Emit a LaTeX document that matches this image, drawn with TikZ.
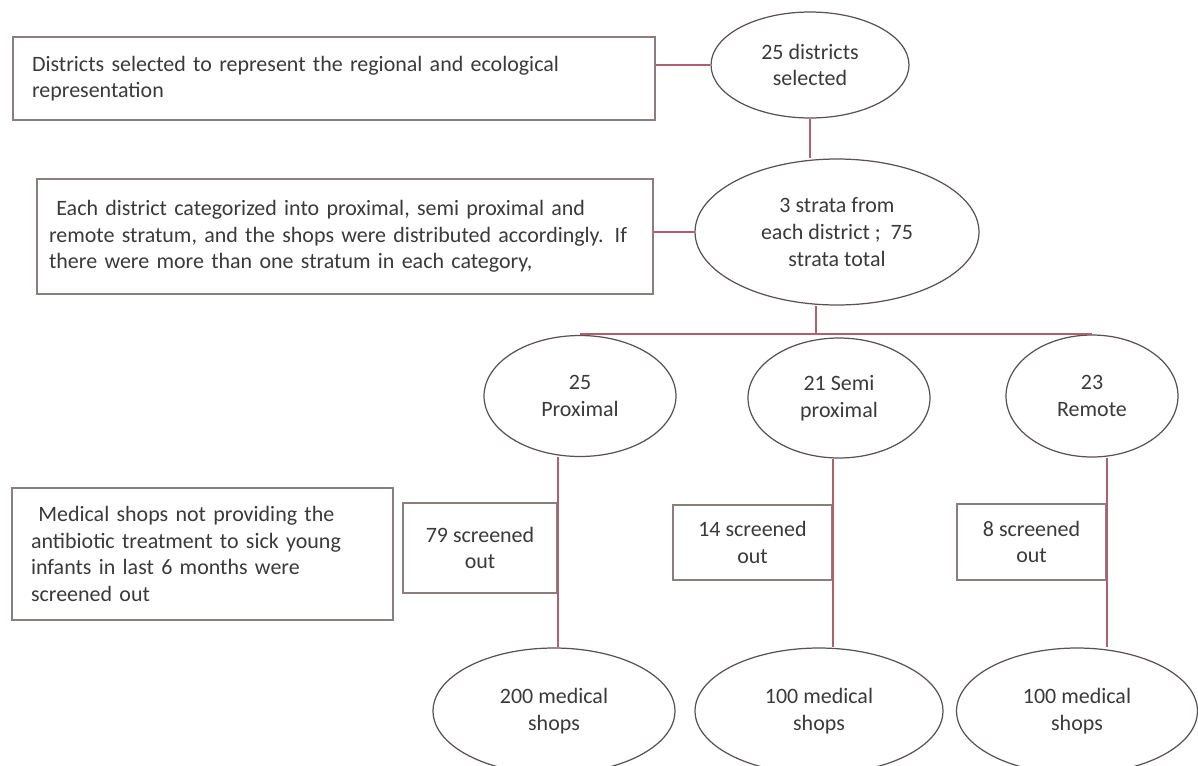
\documentclass[tikz,border=0pt]{standalone}
\usepackage{fontspec}
\setmainfont{Carlito}
\usetikzlibrary{shapes,positioning}
\definecolor{boxline}{HTML}{8A7E7E}
\definecolor{linkline}{HTML}{B0606C}
\definecolor{ovalline}{HTML}{5A5252}
\definecolor{textgrey}{HTML}{3A3A3A}

\begin{document}
\begin{tikzpicture}[x=0.02cm,y=-0.02cm]
\tikzstyle{every node}=[font=\fontsize{12.5}{15.2}\selectfont, text=textgrey]
\tikzstyle{note}=[draw=boxline, line width=1.1pt, rectangle, align=left, inner xsep=0.38cm, inner ysep=0pt]
\tikzstyle{oval}=[draw=ovalline, line width=0.7pt, ellipse, align=center, inner sep=0pt]
\tikzstyle{cut}=[draw=boxline, line width=1.1pt, rectangle, align=center, inner sep=0pt]
\tikzstyle{link}=[draw=linkline, line width=0.9pt]
\useasboundingbox (0,0) rectangle (1198,765);

% notes on the left
\node[note, text width=12.08cm, minimum height=1.66cm] (regions) at (334,78.5) {Districts selected to represent the regional and ecological\\representation};
\node[note, inner xsep=0.24cm, text width=11.84cm, minimum height=2.3cm] (stratanote) at (345,236.5) {\ Each district categorized into proximal, semi proximal and\\remote stratum, and the shops were distributed accordingly. If\\there were more than one stratum in each category,};
\node[note, text width=6.86cm, minimum height=2.64cm] (screennote) at (202.5,554) {\ Medical shops not providing the\\antibiotic treatment to sick young\\infants in last 6 months were\\screened out};

% sampling steps
\node[oval, minimum width=3.96cm, minimum height=2.12cm] (districts) at (810,65) {25 districts\\selected};
\node[oval, minimum width=5.68cm, minimum height=2.92cm] (strata) at (837,232) {3 strata from\\each district ; \ 75\\strata total};
\node[oval, minimum width=3.84cm, minimum height=2.42cm] (prox) at (580,396) {25\\Proximal};
\node[oval, minimum width=3.64cm, minimum height=2.4cm] (semi) at (839,398) {21 Semi\\proximal};
\node[oval, minimum width=3.44cm, minimum height=2.44cm] (remote) at (1092,396) {23\\Remote};

\node[cut, minimum width=3.08cm, minimum height=1.8cm] (cutprox) at (480,548) {79 screened\\out};
\node[cut, minimum width=3.18cm, minimum height=1.5cm] (cutsemi) at (752.5,542.5) {14 screened\\out};
\node[cut, minimum width=2.98cm, minimum height=1.52cm] (cutremote) at (1031.5,542) {8 screened\\out};

\node[oval, minimum width=4.84cm, minimum height=2.52cm] (shopsprox) at (554,711) {200 medical\\shops};
\node[oval, minimum width=4.96cm, minimum height=2.52cm] (shopssemi) at (819,711) {100 medical\\shops};
\node[oval, minimum width=4.82cm, minimum height=2.52cm] (shopsremote) at (1077,711) {100 medical\\shops};

% connectors
\coordinate (fork) at (816,334);
\draw[link] (districts.west) -- (districts.west -| regions.east);
\draw[link] (districts.south) -- (districts.south |- strata.north);
\draw[link] (strata.west) -- (strata.west -| stratanote.east);
\draw[link] (strata.south -| fork) -- (fork);
\draw[link] (prox.north |- fork) -- (remote.north |- fork);
\draw[link] (prox.south -| cutprox.east) -- (shopsprox.north -| cutprox.east);
\draw[link] (semi.south -| cutsemi.east) -- (shopssemi.north -| cutsemi.east);
\draw[link] (remote.south -| cutremote.east) -- (shopsremote.north -| cutremote.east);
\end{tikzpicture}
\end{document}
